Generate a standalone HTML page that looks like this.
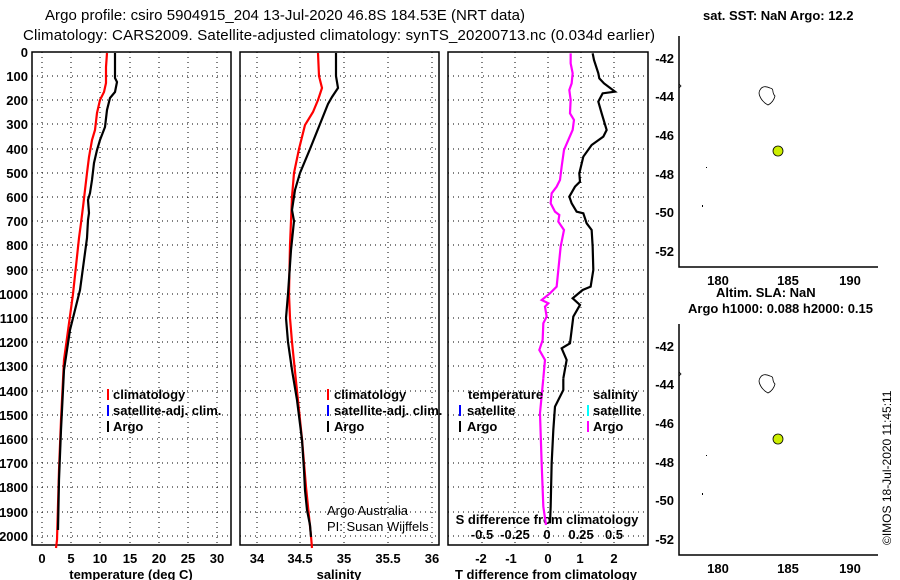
<!DOCTYPE html>
<html><head><meta charset="utf-8"><style>
body{margin:0;background:#fff}
svg{display:block;font-family:"Liberation Sans",sans-serif}
.t{font-size:13px;font-weight:bold}
.g{stroke:#000;stroke-width:1;stroke-dasharray:1 4}
</style></head><body>
<svg width="900" height="580" viewBox="0 0 900 580">
<text x="285" y="20" text-anchor="middle" font-size="15" textLength="480">Argo profile: csiro 5904915_204 13-Jul-2020 46.8S 184.53E (NRT data)</text>
<text x="23" y="40" font-size="15" textLength="632">Climatology: CARS2009. Satellite-adjusted climatology: synTS_20200713.nc (0.034d earlier)</text>

<g class="g">
<path d="M32 76H231M32 100H231M32 124H231M32 149H231M32 173H231M32 197H231M32 221H231M32 245H231M32 270H231M32 294H231M32 318H231M32 342H231M32 366H231M32 391H231M32 415H231M32 439H231M32 463H231M32 487H231M32 512H231M32 536H231"/>
<path d="M240 76H439M240 100H439M240 124H439M240 149H439M240 173H439M240 197H439M240 221H439M240 245H439M240 270H439M240 294H439M240 318H439M240 342H439M240 366H439M240 391H439M240 415H439M240 439H439M240 463H439M240 487H439M240 512H439M240 536H439"/>
<path d="M448 76H648M448 100H648M448 124H648M448 149H648M448 173H648M448 197H648M448 221H648M448 245H648M448 270H648M448 294H648M448 318H648M448 342H648M448 366H648M448 391H648M448 415H648M448 439H648M448 463H648M448 487H648M448 512H648M448 536H648"/>
<path d="M42 52V545M71 52V545M100 52V545M130 52V545M159 52V545M188 52V545M217 52V545"/>
<path d="M257 52V545M300 52V545M344 52V545M388 52V545M432 52V545"/>
<path d="M482 52V545M515 52V545M548 52V545M581 52V545M614 52V545"/>
</g>
<g fill="none" stroke="#000" stroke-width="1.5">
<rect x="32" y="52" width="199" height="493"/>
<rect x="240" y="52" width="199" height="493"/>
<rect x="448" y="52" width="200" height="493"/>
</g>
<g class="t" text-anchor="end">
<text x="28" y="57">0</text><text x="28" y="81">100</text><text x="28" y="105">200</text><text x="28" y="129">300</text><text x="28" y="154">400</text><text x="28" y="178">500</text><text x="28" y="202">600</text><text x="28" y="226">700</text><text x="28" y="250">800</text><text x="28" y="275">900</text><text x="28" y="299">1000</text><text x="28" y="323">1100</text><text x="28" y="347">1200</text><text x="28" y="371">1300</text><text x="28" y="396">1400</text><text x="28" y="420">1500</text><text x="28" y="444">1600</text><text x="28" y="468">1700</text><text x="28" y="492">1800</text><text x="28" y="517">1900</text><text x="28" y="541">2000</text>
</g>
<g class="t" text-anchor="middle">
<text x="42" y="563">0</text><text x="71" y="563">5</text><text x="100" y="563">10</text><text x="130" y="563">15</text><text x="159" y="563">20</text><text x="188" y="563">25</text><text x="217" y="563">30</text>
<text x="131" y="579">temperature (deg C)</text>
<text x="257" y="563">34</text><text x="300" y="563">34.5</text><text x="344" y="563">35</text><text x="388" y="563">35.5</text><text x="432" y="563">36</text>
<text x="339" y="579">salinity</text>
<text x="481" y="563">-2</text><text x="511" y="563">-1</text><text x="548" y="563">0</text><text x="580" y="563">1</text><text x="614" y="563">2</text>
<text x="546" y="579">T difference from climatology</text>
<text x="547" y="524">S difference from climatology</text>
<text x="482" y="539">-0.5</text><text x="515" y="539">-0.25</text><text x="547" y="539">0</text><text x="581" y="539">0.25</text><text x="614" y="539">0.5</text>
</g>

<g fill="none" stroke-width="2.2">
<polyline stroke="#f00" points="107,53 106,67 106,83 104,92 100,100 97,113 95,130 92,140 89,157 87,173 85,190 83,207 81,223 79,238 73,294 64,360 61,420 59,470 57,540 56,548"/>
<polyline stroke="#000" points="115,53 115,78 117,82 115,92 110,98 107,110 105,127 100,140 97,150 94,163 92,180 90,193 88,200 89,213 88,220 87,238 80,290 70,330 64,370 61,430 59,480 58,530"/>
<polyline stroke="#f00" points="318,53 319,76 322,88 318,100 313,112 305,125 299,149 294,173 292,197 291,221 290,245 289,294 290,318 292,342 297,391 302,439 306,487 311,536 312,548"/>
<polyline stroke="#000" points="336,53 336,76 338,88 332,97 328,104 320,124 310,149 300,173 295,190 292,210 294,221 291,250 288,294 286,318 288,342 292,370 297,400 302,440 304,470 305,490 307,510 310,525 311,537"/>
</g>
<g transform="translate(440,40) scale(0.3333)" fill="none" stroke-width="6.6">
<polyline stroke="#000" points="458,40 462,60 475,100 478,115 492,130 525,155 488,160 475,185 485,220 500,270 490,290 455,315 430,350 418,400 420,425 405,440 388,470 395,490 410,515 430,520 440,550 455,570 458,620 460,690 452,740 428,750 398,775 420,795 400,830 395,870 390,910 365,925 380,960 370,1015"/>
<polyline stroke="#f0f" points="392,40 392,70 398,100 395,130 388,150 392,180 390,220 402,240 398,270 385,300 372,330 365,380 360,420 350,440 335,460 332,490 345,515 358,525 355,545 372,570 362,620 350,740 330,760 305,780 325,790 315,800 320,830 310,850 308,900 298,930 315,960 310,1015"/>
</g>
<g transform="translate(440,380) scale(0.3333)" fill="none" stroke-width="6.6">
<polyline stroke="#000" points="370,-5 370,30 345,80 340,150 335,250 332,380 330,430"/>
<polyline stroke="#f0f" points="310,-5 300,100 305,250 310,380 318,435"/>
</g>

<g class="t">
<rect x="107" y="389" width="2" height="11" fill="#f00"/><text x="113" y="399">climatology</text>
<rect x="107" y="405" width="2" height="11" fill="#00f"/><text x="113" y="415">satellite-adj. clim.</text>
<rect x="107" y="421" width="2" height="11" fill="#000"/><text x="113" y="431">Argo</text>
<rect x="327" y="389" width="2" height="11" fill="#f00"/><text x="334" y="399">climatology</text>
<rect x="327" y="405" width="2" height="11" fill="#00f"/><text x="334" y="415">satellite-adj. clim.</text>
<rect x="327" y="421" width="2" height="11" fill="#000"/><text x="334" y="431">Argo</text>
<text x="468" y="399">temperature</text>
<rect x="459" y="405" width="2" height="11" fill="#00f"/><text x="467" y="415">satellite</text>
<rect x="459" y="421" width="2" height="11" fill="#000"/><text x="467" y="431">Argo</text>
<text x="593" y="399">salinity</text>
<rect x="587" y="405" width="2" height="11" fill="#0ff"/><text x="593" y="415">satellite</text>
<rect x="587" y="421" width="2" height="11" fill="#f0f"/><text x="593" y="431">Argo</text>
</g>
<text x="327" y="515" font-size="13">Argo Australia</text>
<text x="327" y="531" font-size="13">PI: Susan Wijffels</text>

<text class="t" x="703" y="20">sat. SST: NaN Argo: 12.2</text>
<text class="t" x="716" y="297">Altim. SLA: NaN</text>
<text class="t" x="688" y="313">Argo h1000: 0.088 h2000: 0.15</text>
<g id="m1">
<path d="M679 36V267H878" fill="none" stroke="#000" stroke-width="1.5"/>
<g class="t" text-anchor="end">
<text x="674" y="63">-42</text><text x="674" y="101">-44</text><text x="674" y="140">-46</text><text x="674" y="179">-48</text><text x="674" y="217">-50</text><text x="674" y="256">-52</text>
</g>
<g class="t" text-anchor="middle">
<text x="718" y="285">180</text><text x="788" y="285">185</text><text x="850" y="285">190</text>
</g>
<path d="M760 90 C757 94 762 102 768 105 C772 103 774 100 775 96 C771 92 775 89 770 88 C766 86 762 86 760 90Z" fill="none" stroke="#000" stroke-width="0.8"/>
<circle cx="778" cy="151" r="5" fill="#ccee00" stroke="#000" stroke-width="0.8"/>
<rect x="706" y="167" width="1" height="1" fill="#000"/>
<rect x="702" y="205" width="1" height="2" fill="#000"/>
<path d="M679 84 L681 86 L679 88" fill="none" stroke="#000" stroke-width="0.8"/>
</g>
<use href="#m1" transform="translate(0,288)"/>
<text transform="translate(891,545) rotate(-90)" style="font-weight:normal;font-size:12px">©IMOS 18-Jul-2020 11:45:11</text>
</svg>
</body></html>
